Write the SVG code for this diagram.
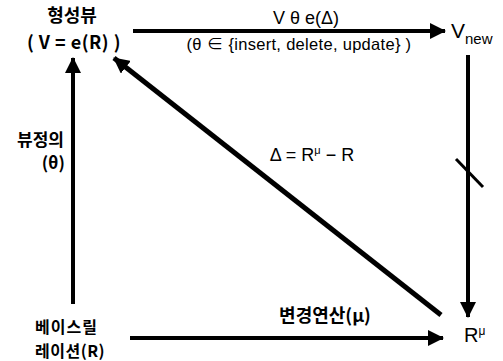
<svg xmlns="http://www.w3.org/2000/svg" width="503" height="361" viewBox="0 0 503 361">
<defs>
<style>
.t{font-family:"Noto Sans CJK KR","Liberation Sans",sans-serif;fill:#000;}
.k{font-weight:bold;}
.l{font-family:"Liberation Sans","Noto Sans CJK KR",sans-serif;font-weight:normal;}
.ln{stroke:#000;fill:none;}
</style>
<marker id="ah" viewBox="0 0 16 16" refX="15" refY="8" markerWidth="16" markerHeight="16" markerUnits="userSpaceOnUse" orient="auto">
<path d="M0,0 L16,8 L0,16 Z" fill="#000"/>
</marker>
</defs>
<rect width="503" height="361" fill="#fff"/>
<g id="connectors">
<line class="ln" x1="133" y1="31" x2="445" y2="31" stroke-width="4" marker-end="url(#ah)"/>
<line class="ln" x1="468" y1="55" x2="468" y2="317" stroke-width="4" marker-end="url(#ah)"/>
<line class="ln" x1="456" y1="159" x2="483" y2="187" stroke-width="3"/>
<line class="ln" x1="130" y1="338" x2="443" y2="338" stroke-width="4" marker-end="url(#ah)"/>
<line class="ln" x1="73" y1="304" x2="73" y2="58" stroke-width="4" marker-end="url(#ah)"/>
<line class="ln" x1="441" y1="315" x2="114" y2="58" stroke-width="5" marker-end="url(#ah)"/>
<text class="t l" x="306" y="24" text-anchor="middle" font-size="18">V θ e(Δ)</text>
<text class="t l" x="299" y="50" text-anchor="middle" font-size="16.5" letter-spacing="0.3">(θ ∈ {insert, delete, update} )</text>
<text class="t l" x="312" y="161" text-anchor="middle" font-size="18">Δ = R<tspan font-size="11" dy="-7">μ</tspan><tspan dy="7"> − R</tspan></text>
<text class="t k" x="325" y="322" text-anchor="middle" font-size="18">변경연산(μ)</text>
<text class="t k" x="64" y="146" text-anchor="end" font-size="17">뷰정의</text>
<text class="t k" x="65" y="169" text-anchor="end" font-size="17">(θ)</text>
</g>
<g id="node-view">
<text class="t k" x="72" y="22" text-anchor="middle" font-size="18">형성뷰</text>
<text class="t k" x="74" y="49" text-anchor="middle" font-size="18" letter-spacing="0.5">( V = e(R) )</text>
</g>
<g id="node-vnew">
<text class="t l" x="451" y="38" font-size="21">V<tspan font-size="15" dy="6">new</tspan></text>
</g>
<g id="node-rmu">
<text class="t l" x="464" y="342" font-size="20">R<tspan font-size="12" dy="-7">μ</tspan></text>
</g>
<g id="node-base">
<text class="t k" x="35" y="333" font-size="16" letter-spacing="1">베이스릴</text>
<text class="t k" x="35" y="357" font-size="16" letter-spacing="0.5">레이션(R)</text>
</g>
</svg>
